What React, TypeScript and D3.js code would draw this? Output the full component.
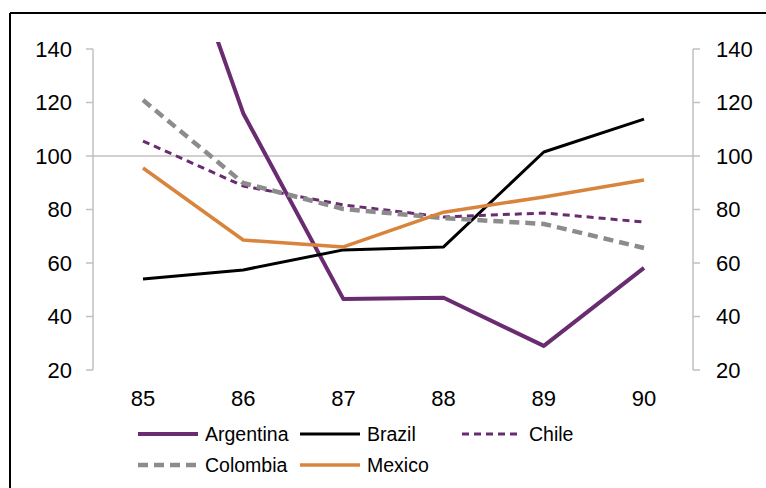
import React from "react";
import * as d3 from "d3";

const years = ["85", "86", "87", "88", "89", "90"];
const argentina = [222, 116, 46.5, 47, 29, 58.2];
const brazil = [54, 57.4, 64.9, 66, 101.5, 113.8];
const chile = [105.6, 88.8, 81.7, 77.2, 78.7, 75.3];
const colombia = [120.9, 89.9, 80.2, 76.8, 74.6, 65.6];
const mexico = [95.5, 68.6, 66, 79, 84.7, 91];
const yTicks = [20, 40, 60, 80, 100, 120, 140];

type S = { name: string; values: number[]; color: string; width: number; dash?: string };
const series: S[] = [
  { name: "Argentina", values: argentina, color: "#6a2c70", width: 4 },
  { name: "Brazil", values: brazil, color: "#000000", width: 3 },
  { name: "Chile", values: chile, color: "#6a2c70", width: 3, dash: "7,5" },
  { name: "Colombia", values: colombia, color: "#8c8c8c", width: 4.5, dash: "10,6" },
  { name: "Mexico", values: mexico, color: "#d9843c", width: 3.5 },
];

export default function App() {
  const W = 766, H = 488;
  const x = d3.scalePoint<string>().domain(years).range([143, 644]);
  const y = d3.scaleLinear().domain([20, 140]).range([370, 49]);
  const line = d3.line<number>().x((_, i) => x(years[i])!).y((d) => y(d));
  const font = "'Liberation Sans', Arial, sans-serif";
  const legend = [
    { s: series[0], lx: 138, ly: 434 },
    { s: series[1], lx: 300, ly: 434 },
    { s: series[2], lx: 462, ly: 434 },
    { s: series[3], lx: 138, ly: 465 },
    { s: series[4], lx: 300, ly: 465 },
  ];
  return (
    <svg width={W} height={H} style={{ position: "absolute", left: 0, top: 0 }} fontFamily={font}>
      <rect x={0} y={0} width={W} height={H} fill="#fff" />
      <line x1={10} y1={13} x2={W} y2={13} stroke="#000" strokeWidth={2} />
      <line x1={10} y1={13} x2={10} y2={H} stroke="#000" strokeWidth={2} />
      <defs>
        <clipPath id="plot">
          <rect x={93} y={42} width={600} height={340} />
        </clipPath>
      </defs>
      {/* gridline at 100 */}
      <line x1={93} x2={693} y1={y(100)} y2={y(100)} stroke="#c0c0c0" strokeWidth={1.5} />
      {/* left axis */}
      <line x1={93} x2={93} y1={y(20)} y2={y(140)} stroke="#c0c0c0" strokeWidth={1.5} />
      <line x1={693} x2={693} y1={y(20)} y2={y(140)} stroke="#c0c0c0" strokeWidth={1.5} />
      {yTicks.map((t) => (
        <g key={t}>
          <line x1={86} x2={93} y1={y(t)} y2={y(t)} stroke="#c0c0c0" strokeWidth={1.5} />
          <line x1={693} x2={700} y1={y(t)} y2={y(t)} stroke="#c0c0c0" strokeWidth={1.5} />
          <text x={72} y={y(t)} dy="0.36em" textAnchor="end" fontSize={22} fill="#000">{t}</text>
          <text x={716} y={y(t)} dy="0.36em" textAnchor="start" fontSize={22} fill="#000">{t}</text>
        </g>
      ))}
      {years.map((yr) => (
        <text key={yr} x={x(yr)} y={398} dy="0.36em" textAnchor="middle" fontSize={22} fill="#000">{yr}</text>
      ))}
      <g clipPath="url(#plot)">
        {series.map((s) => (
          <path key={s.name} d={line(s.values) || ""} fill="none" stroke={s.color} strokeWidth={s.width}
            strokeDasharray={s.dash} strokeLinejoin="round" />
        ))}
      </g>
      {legend.map(({ s, lx, ly }) => (
        <g key={s.name}>
          <line x1={lx} x2={lx + 60} y1={ly} y2={ly} stroke={s.color} strokeWidth={s.width} strokeDasharray={s.dash} />
          <text x={lx + 67} y={ly} dy="0.36em" fontSize={19.5} fill="#000">{s.name}</text>
        </g>
      ))}
    </svg>
  );
}
